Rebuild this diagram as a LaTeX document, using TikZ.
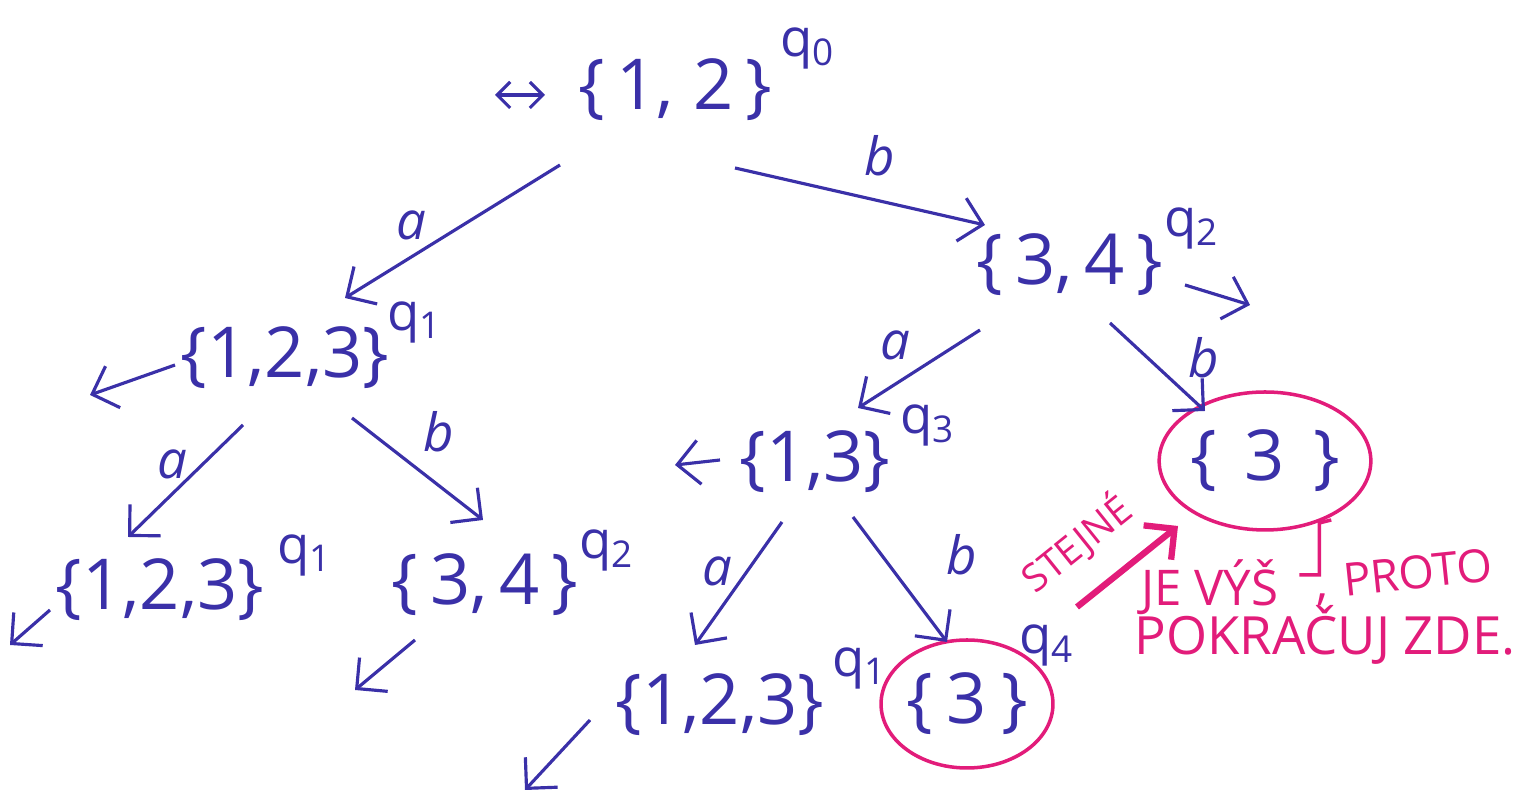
\documentclass[tikz,border=0pt]{standalone}
\usepackage{fontspec}
\setmainfont{Open Sans}
\usetikzlibrary{arrows.meta, positioning, calc, shapes.geometric}
\definecolor{inkblue}{RGB}{58,48,168}
\definecolor{inkpink}{RGB}{226,28,122}

\tikzset{
  setnode/.style={inkblue, font=\fontsize{20}{24}\selectfont, inner sep=0pt},
  qlab/.style={inkblue, font=\fontsize{15}{18}\selectfont, inner sep=0pt},
  edge/.style={inkblue, line width=0.9pt, -{Straight Barb[length=2.2mm,width=4.4mm]}},
  elab/.style={inkblue, font=\fontsize{15}{18}\itshape\selectfont, inner sep=1pt},
  circled/.style={ellipse, draw=inkpink, line width=1pt},
  note/.style={inkpink, font=\fontsize{14}{17}\selectfont, inner sep=0pt},
}

\begin{document}
\begin{tikzpicture}[x=0.1mm, y=-0.1mm]
  \useasboundingbox (0,0) rectangle (1534,803);

  % Subset states
  \node[setnode] (s0) at (675,90) {\{\,1,\;2\,\}};
  \node[setnode] (s1) at (285,358) {\{1,2,3\}};
  \node[setnode] (s2) at (1070,265) {\{\,3,\,4\,\}};
  \node[setnode] (s3) at (815,462) {\{1,3\}};
  \node[setnode, circled, minimum width=17mm, minimum height=13.8mm] (s4) at (1265,461) {\{\hspace{0.4em}3\hspace{0.4em}\}};
  \node[setnode] (s5) at (160,590) {\{1,2,3\}};
  \node[setnode] (s6) at (485,585) {\{\,3,\,4\,\}};
  \node[setnode] (s7) at (720,705) {\{1,2,3\}};
  \node[setnode, circled, minimum width=13.4mm, minimum height=12.8mm] (s8) at (967,704) {\{\hspace{0.2em}3\hspace{0.2em}\}};

  % State names
  \node[qlab] (lq0) at (808,48) {q\textsubscript{0}};
  \node[qlab] (lq1) at (415,322) {q\textsubscript{1}};
  \node[qlab] (lq2) at (1192,228) {q\textsubscript{2}};
  \node[qlab] (lq3) at (928,425) {q\textsubscript{3}};
  \node[qlab] (lq5) at (305,555) {q\textsubscript{1}};
  \node[qlab] (lq6) at (607,550) {q\textsubscript{2}};
  \node[qlab] (lq7) at (860,668) {q\textsubscript{1}};
  \node[qlab] (lq8) at (1047,645) {q\textsubscript{4}};

  % Transitions
  \draw[edge] ($(s0)+(-115,75)$) -- node[elab, pos=0.6, anchor=south east] {a} ($(s1)+(60,-60)$);
  \draw[edge] ($(s0)+(60,78)$) -- node[elab, pos=0.58, above=2mm] {b} ($(s2)+(-85,-40)$);
  \draw[edge] ($(s1)+(-42,67)$) -- node[elab, pos=0.35, left=1mm] {a} ($(s5)+(-32,-53)$);
  \draw[edge] ($(s1)+(67,60)$) -- node[elab, pos=0.45, above right=1mm] {b} ($(s6)+(-2,-65)$);
  \draw[edge] ($(s2)+(-90,65)$) -- node[elab, pos=0.5, above left=0.5mm] {a} ($(s3)+(43,-54)$);
  \draw[edge] ($(s2)+(40,58)$) -- node[elab, pos=0.4, right=3.5mm] {b} ($(s4)+(-60,-50)$);
  \draw[edge] ($(s3)+(-33,60)$) -- node[elab, pos=0.4, left=1mm] {a} ($(s7)+(-25,-60)$);
  \draw[edge] ($(s3)+(38,55)$) -- node[elab, pos=0.3, right=6mm] {b} ($(s8)+(-20,-62)$);

  % Start marker and unfinished branches
  \coordinate (init) at (495,95);
  \coordinate (o1) at (90,395);
  \coordinate (o2) at (1250,305);
  \coordinate (o3) at (675,465);
  \coordinate (o5) at (10,645);
  \coordinate (o6) at (355,690);
  \coordinate (o7) at (525,790);
  \draw[inkblue, line width=0.9pt, {Straight Barb[length=1.3mm,width=2.6mm]}-{Straight Barb[length=1.3mm,width=2.6mm]}] (init) -- ($(s0)+(-130,5)$);
  \draw[edge] ($(s1)+(-110,7)$) -- (o1);
  \draw[edge] ($(s2)+(115,20)$) -- (o2);
  \draw[edge] ($(s3)+(-95,-2)$) -- (o3);
  \draw[edge] ($(s5)+(-110,20)$) -- (o5);
  \draw[edge] ($(s6)+(-70,55)$) -- (o6);
  \draw[edge] ($(s7)+(-130,15)$) -- (o7);

  % Pink remark
  \draw[inkpink, line width=1.8pt, -{Straight Barb[length=2.2mm,width=4.4mm]}] ($(s8)+(110,-97)$) -- node[note, font=\fontsize{11}{13}\selectfont, sloped, pos=0.3, above=2.5mm] {STEJNÉ} ($(s4)+(-87,65)$);
  \node[note] (nje) at (1210,587) {JE VÝŠ};
  \draw[inkpink, line width=1pt] ($(nje.east)+(20,-12)$) -- ++(20,0) -- ++(0,-52) -- ++(12,-3);
  \node[note] (ncomma) at (1323,600) {,};
  \node[note, font=\fontsize{13}{16}\selectfont, rotate=6] (nproto) at (1418,572) {PROTO};
  \node[note, font=\fontsize{15}{18}\selectfont] (nzde) at (1325,635) {POKRAČUJ ZDE.};
\end{tikzpicture}
\end{document}
